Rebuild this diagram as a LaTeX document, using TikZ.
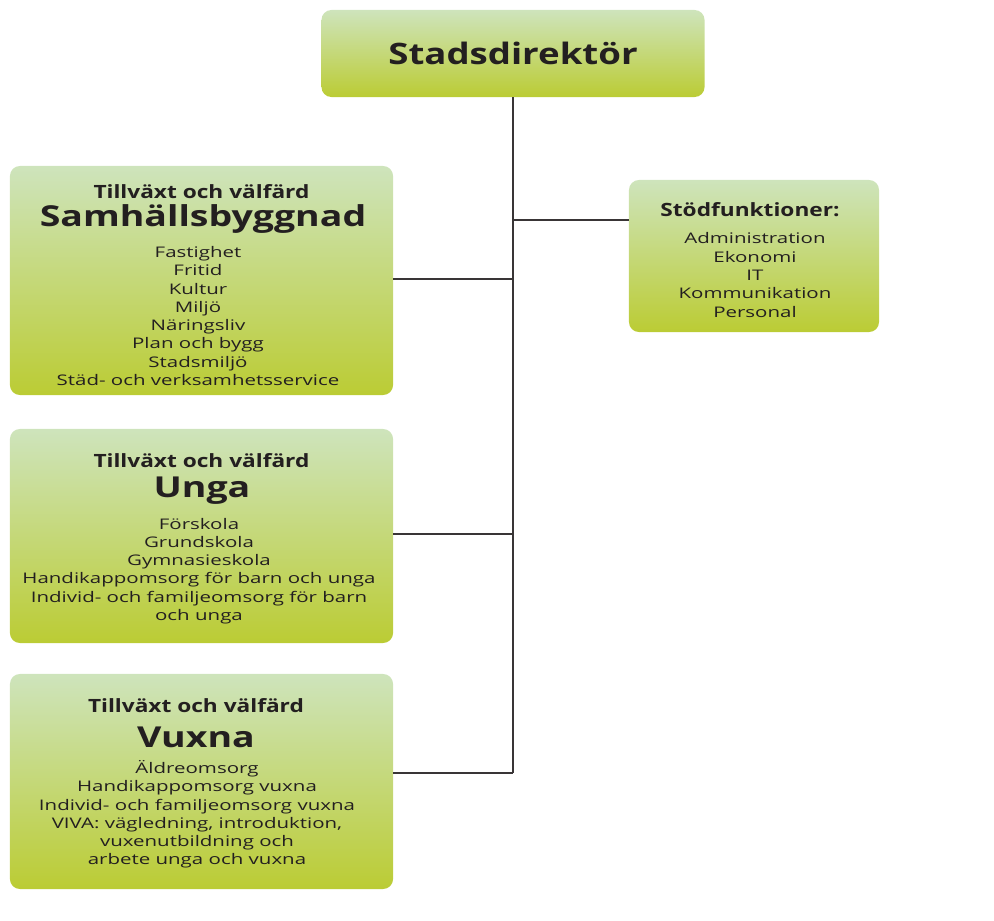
\documentclass[tikz,border=0pt]{standalone}
\usepackage{fontspec}
\setmainfont{Open Sans}
\newfontfamily\boxhead{Open Sans}[FakeStretch=1.24]
\newfontfamily\boxbig{Open Sans}[FakeStretch=1.3]
\newfontfamily\boxitem{Open Sans}[FakeStretch=1.4]
\usetikzlibrary{positioning,calc}

\definecolor{topGreen}{RGB}{206,228,188}
\definecolor{botGreen}{RGB}{187,204,52}
\definecolor{inkGray}{RGB}{35,31,32}

\tikzset{
  orgbox/.style={rounded corners=0.25cm, top color=topGreen, bottom color=botGreen, draw=none, inner sep=0pt},
  headline/.style={font=\boxhead\fontsize{13}{15}\selectfont\bfseries, text=inkGray, inner sep=0pt},
  bigline/.style={font=\boxbig\fontsize{20.5}{24}\selectfont\bfseries, text=inkGray, inner sep=0pt},
  itemlist/.style={font=\boxitem\fontsize{10.4}{13}\selectfont, align=center, text=inkGray, inner sep=0pt},
  conn/.style={draw=inkGray!90, line width=1pt}
}

\begin{document}
\begin{tikzpicture}[x=0.025cm, y=-0.025cm]
  \useasboundingbox (0,0) rectangle (994,921);
  % boxes
  \node[orgbox, minimum width=9.575cm, minimum height=2.175cm] (direktor) at (513,53.5) {};
  \node[orgbox, minimum width=9.575cm, minimum height=5.725cm] (samhall) at (201.5,280.5) {};
  \node[orgbox, minimum width=9.575cm, minimum height=5.35cm] (unga) at (201.5,536) {};
  \node[orgbox, minimum width=9.575cm, minimum height=5.375cm] (vuxna) at (201.5,781.5) {};
  \node[orgbox, minimum width=6.25cm, minimum height=3.8cm] (stod) at (754,256) {};

  \node[font=\boxhead\fontsize{21}{25}\selectfont\bfseries, text=inkGray] (direktorText) at (513,53.5) {Stadsdirektör};

  \node[headline] (samhallHead) at (201.5,192) {Tillväxt och välfärd};
  \node[bigline] (samhallName) at (203,219) {Samhällsbyggnad};
  \node[itemlist] (samhallList) at (198,316) {Fastighet\\Fritid\\Kultur\\Miljö\\Näringsliv\\Plan och bygg\\Stadsmiljö\\Städ- och verksamhetsservice};

  \node[headline] (ungaHead) at (201.5,461) {Tillväxt och välfärd};
  \node[bigline] (ungaName) at (202,491) {Unga};
  \node[itemlist] (ungaList) at (199,571) {Förskola\\Grundskola\\Gymnasieskola\\Handikappomsorg för barn och unga\\Individ- och familjeomsorg för barn\\och unga};

  \node[headline] (vuxnaHead) at (196,706) {Tillväxt och välfärd};
  \node[bigline] (vuxnaName) at (196,737) {Vuxna};
  \node[itemlist] (vuxnaList) at (197,814.5) {Äldreomsorg\\Handikappomsorg vuxna\\Individ- och familjeomsorg vuxna\\VIVA: vägledning, introduktion,\\vuxenutbildning och\\arbete unga och vuxna};

  \node[headline] (stodHead) at (750,210) {Stödfunktioner:};
  \node[itemlist] (stodList) at (755,275) {Administration\\Ekonomi\\IT\\Kommunikation\\Personal};

  % connectors
  \coordinate (spineEnd) at (513,773);
  \coordinate (stodIn) at (629,220);
  \draw[conn] (direktor.south) -- (direktor.south |- spineEnd);
  \draw[conn] (stodIn) -- (stodIn -| spineEnd);
  \draw[conn] (samhall.east |- 0,279) -- (spineEnd |- 0,279);
  \draw[conn] (unga.east |- 0,534) -- (spineEnd |- 0,534);
  \draw[conn] (vuxna.east |- spineEnd) -- (spineEnd);
\end{tikzpicture}
\end{document}
